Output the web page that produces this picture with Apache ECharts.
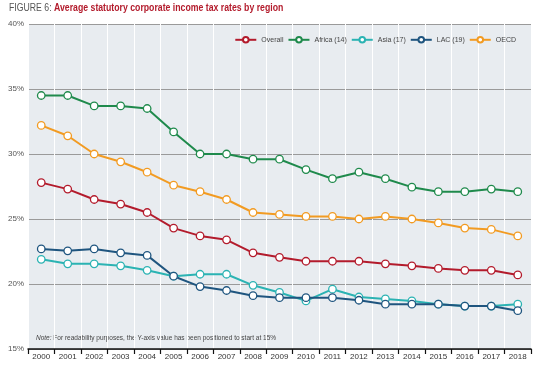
<!DOCTYPE html>
<html><head><meta charset="utf-8">
<script src="https://cdn.jsdelivr.net/npm/echarts@6/dist/echarts.min.js"></script>
<style>html,body{margin:0;padding:0;background:#fff}#c{width:541px;height:372px}</style>
</head><body><div id="c"></div>
<script>
var years = ['2000','2001','2002','2003','2004','2005','2006','2007','2008','2009','2010','2011','2012','2013','2014','2015','2016','2017','2018'];
var overall = [27.8,27.3,26.5,26.15,25.5,24.3,23.7,23.4,22.4,22.05,21.75,21.75,21.75,21.55,21.4,21.2,21.05,21.05,20.7];
var africa  = [34.5,34.5,33.7,33.7,33.5,31.7,30.0,30.0,29.6,29.6,28.8,28.1,28.6,28.1,27.45,27.1,27.1,27.3,27.1];
var asia    = [21.9,21.55,21.55,21.4,21.05,20.6,20.75,20.75,19.9,19.35,18.7,19.6,19.0,18.85,18.7,18.45,18.3,18.3,18.45];
var lac     = [22.7,22.55,22.7,22.4,22.2,20.6,19.8,19.5,19.1,18.95,18.95,18.95,18.75,18.45,18.45,18.45,18.3,18.3,17.95];
var oecd    = [32.2,31.4,30.0,29.4,28.6,27.6,27.1,26.5,25.5,25.35,25.2,25.2,25.0,25.2,25.0,24.7,24.3,24.2,23.7];
var yTicks = [15,20,25,30,35,40];

var FONT = '"Liberation Sans","Open Sans",sans-serif';
var chart = echarts.init(document.getElementById('c'), null, {renderer:'canvas'});
function mk(name, data, color){
  return {name:name, type:'line', data:data, symbol:'circle', symbolSize:7.5,
    itemStyle:{color:'#fff', borderColor:color, borderWidth:1.3},
    lineStyle:{color:color, width:2}, color:color, animation:false};
}
chart.setOption({
  animation:false,
  textStyle:{fontFamily:FONT},
  legend:{right:20, top:31, itemWidth:21, itemHeight:7, itemGap:4,
    textStyle:{fontSize:7, color:'#444', fontFamily:FONT},
    data:['Overall','Africa (14)','Asia (17)','LAC (19)','OECD']},
  grid:{left:28, right:10, top:24, bottom:23, show:true, backgroundColor:'#e8ecf0', borderWidth:0},
  xAxis:{type:'category', data:years, boundaryGap:true,
    axisLine:{lineStyle:{color:'#111', width:1.5}},
    axisTick:{show:true, length:5, lineStyle:{color:'#111', width:1.2}},
    axisLabel:{fontSize:8, color:'#333', margin:4, fontFamily:FONT},
    splitLine:{show:true, lineStyle:{color:'#ffffff', width:1}}},
  yAxis:{type:'value', min:yTicks[0], max:yTicks[yTicks.length-1], interval:5,
    axisLine:{show:false}, axisTick:{show:false},
    axisLabel:{fontSize:8, color:'#555', margin:4, formatter:'{value}%', fontFamily:FONT},
    splitLine:{lineStyle:{color:'#9a9a9a', width:1}}},
  graphic:[
    {type:'text', x:9, y:3, scaleX:0.83, style:{
      text:'{a|FIGURE 6: }{b|Average statutory corporate income tax rates by region}',
      rich:{a:{fontSize:10.5, fill:'#555', fontFamily:FONT}, b:{fontSize:10.5, fontWeight:'bold', fill:'#b31b2c', fontFamily:FONT}}}},
    {type:'text', x:36, y:335, style:{
      text:'{i|Note:} For readability purposes, the Y-axis value has been positioned to start at 15%',
      rich:{i:{fontStyle:'italic', fontSize:6.5, fill:'#444', fontFamily:FONT}},
      fontSize:6.5, fill:'#444', fontFamily:FONT}}],
  series:[
    mk('Overall', overall, '#b31b2c'),
    mk('Africa (14)', africa, '#1f8a4c'),
    mk('Asia (17)', asia, '#2bb3b3'),
    mk('LAC (19)', lac, '#1f557f'),
    mk('OECD', oecd, '#f29b22')
  ]
});
</script></body></html>
